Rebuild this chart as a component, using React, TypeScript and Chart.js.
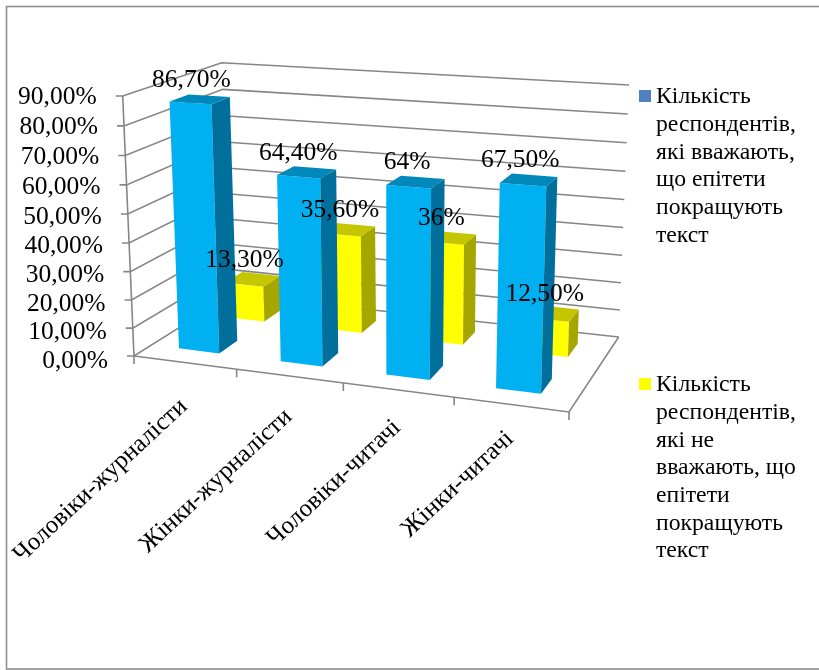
import { useEffect, useRef } from "react";
import { Chart, registerables } from "chart.js";

Chart.register(...registerables);

// Chart content
const categories = ["Чоловіки-журналісти", "Жінки-журналісти", "Чоловіки-читачі", "Жінки-читачі"];
const positiveValues = [86.7, 64.4, 64, 67.5];
const negativeValues = [13.3, 35.6, 36, 12.5];
const positiveLabels = ["86,70%", "64,40%", "64%", "67,50%"];
const negativeLabels = ["13,30%", "35,60%", "36%", "12,50%"];
const positiveLegend = ["Кількість", "респондентів,", "які вважають,", "що епітети", "покращують", "текст"];
const negativeLegend = ["Кількість", "респондентів,", "які не", "вважають, що", "епітети", "покращують", "текст"];

// Plot box corners on screen, named front/back, left/right, bottom/top
const FLB = [134, 356];
const FRB = [569, 412];
const FLT = [122.7, 96];
const FRT = [577.5, 124];
const BLB = [232, 294.5];
const BRB = [618.7, 337];
const BLT = [221.7, 62.7];
const BRT = [629, 85];
const PERSPECTIVE_UP = 0.039;
const PERSPECTIVE_ACROSS = 0.075;

const PLOT = { left: 134, top: 96, right: 569, bottom: 356 };
const SERIF = '"Liberation Serif", "Times New Roman", serif';
const GRID = "#868686";

const lerp = (a: number, b: number, t: number) => a + (b - a) * t;

// Maps plot-box coordinates (across, up, into the page; each 0..1) to the screen
function project(u: number, v: number, w: number): [number, number] {
  const h = v * (1 - PERSPECTIVE_UP * (1 - v));
  const s = u * (1 - PERSPECTIVE_ACROSS * (1 - u));
  const at = (i: number) => {
    const front = lerp(lerp(FLB[i], FRB[i], s), lerp(FLT[i], FRT[i], s), h);
    const back = lerp(lerp(BLB[i], BRB[i], s), lerp(BLT[i], BRT[i], s), h);
    return lerp(front, back, w);
  };
  return [at(0), at(1)];
}

function polygon(ctx: CanvasRenderingContext2D, pts: [number, number][], fill: string) {
  ctx.beginPath();
  pts.forEach((p, i) => (i ? ctx.lineTo(p[0], p[1]) : ctx.moveTo(p[0], p[1])));
  ctx.closePath();
  ctx.fillStyle = fill;
  ctx.fill();
}

function line(ctx: CanvasRenderingContext2D, pts: [number, number][]) {
  ctx.beginPath();
  pts.forEach((p, i) => (i ? ctx.lineTo(p[0], p[1]) : ctx.moveTo(p[0], p[1])));
  ctx.stroke();
}

// Per-series box styling; the two series stand in separate rows along the depth axis
const rows = [
  { near: 0.18, far: 0.38, front: "#00B0F0", top: "#0088BA", side: "#006F9B", dx: -8.5, dy: -19.5, labels: positiveLabels },
  { near: 0.68, far: 0.86, front: "#FFFF00", top: "#C6C600", side: "#A6A600", dx: -8, dy: -19.5, labels: negativeLabels },
];
const BAR_SHIFT = -0.006;

type Box = { u0: number; u1: number; v: number };

function boxOf(chart: any, el: any): Box {
  const sx = chart.scales.x;
  const sy = chart.scales.y;
  const span = sx.right - sx.left;
  const c = (el.x - sx.left) / span + BAR_SHIFT;
  const half = el.width / span / 2;
  return { u0: c - half, u1: c + half, v: (sy.bottom - el.y) / (sy.bottom - sy.top) };
}

const scenePlugin = {
  id: "scene3d",
  // Frame, walls, floor, gridlines and axis text
  beforeDatasetsDraw(chart: any) {
    const { ctx, scales } = chart;
    const sy = scales.y;
    const sx = scales.x;
    ctx.save();
    ctx.fillStyle = "#FFFFFF";
    ctx.fillRect(0, 0, chart.width, chart.height);

    ctx.strokeStyle = "#8E8E8E";
    ctx.lineWidth = 1.6;
    ctx.strokeRect(6.5, 6.5, 900, 662.5);

    ctx.strokeStyle = GRID;
    ctx.lineWidth = 1.6;
    ctx.font = `25.5px ${SERIF}`;
    ctx.textAlign = "right";
    ctx.textBaseline = "middle";

    sy.ticks.forEach((tick: any, i: number) => {
      const v = (sy.bottom - sy.getPixelForTick(i)) / (sy.bottom - sy.top);
      const a = project(0, v, 0);
      const b = project(0, v, 1);
      const c = project(1, v, 1);
      line(ctx, [[a[0] - 7, a[1]], a, b, c]);
      ctx.fillStyle = "#000000";
      ctx.fillText(tick.label, a[0] - 26, a[1] + 1 + 4 * (1 - v));
    });

    // Upright axis, floor outline and category ticks
    line(ctx, [project(0, 0, 0), project(0, 1, 0)]);
    line(ctx, [project(0, 0, 0), project(1, 0, 0), project(1, 0, 1)]);
    categories.forEach((_, i) => {
      for (const u of i === 0 ? [0, 0.25] : [(i + 1) * 0.25]) {
        const p = project(u, 0, 0);
        line(ctx, [p, [p[0], p[1] + 8]]);
      }
    });

    ctx.fillStyle = "#000000";
    ctx.font = `25px ${SERIF}`;
    ctx.textAlign = "right";
    chart.data.labels.forEach((label: string, i: number) => {
      const u = (sx.getPixelForValue(i) - sx.left) / (sx.right - sx.left);
      const p = project(u, 0, 0);
      ctx.save();
      ctx.translate(p[0] - 1, p[1] + 40.5 - 3.2 * i);
      ctx.rotate((-43 * Math.PI) / 180);
      ctx.fillText(label, 0, 0);
      ctx.restore();
    });
    ctx.restore();
  },
  // Each bar element is drawn as a box instead of a flat rectangle
  beforeDatasetDraw(chart: any, args: any) {
    const { ctx } = chart;
    const row = rows[args.index];
    args.meta.data.forEach((el: any) => {
      const { u0, u1, v } = boxOf(chart, el);
      const { near, far } = row;
      polygon(ctx, [project(u0, 0, near), project(u1, 0, near), project(u1, v, near), project(u0, v, near)], row.front);
      polygon(ctx, [project(u1, 0, near), project(u1, 0, far), project(u1, v, far), project(u1, v, near)], row.side);
      polygon(ctx, [project(u0, v, near), project(u1, v, near), project(u1, v, far), project(u0, v, far)], row.top);
    });
    return false;
  },
  // Value labels sit above everything, followed by the legend
  afterDatasetsDraw(chart: any) {
    const { ctx } = chart;
    ctx.save();
    ctx.fillStyle = "#000000";
    ctx.font = `25.5px ${SERIF}`;
    ctx.textAlign = "center";
    ctx.textBaseline = "middle";
    rows.forEach((row, d) => {
      chart.getDatasetMeta(d).data.forEach((el: any, i: number) => {
        const { u0, u1, v } = boxOf(chart, el);
        const p = project((u0 + u1) / 2, v, (row.near + row.far) / 2);
        ctx.fillText(row.labels[i], p[0] + row.dx, p[1] + row.dy);
      });
    });

    const drawLegend = (lines: string[], swatch: string, top: number) => {
      ctx.fillStyle = swatch;
      ctx.fillRect(639, top - 7, 12, 12);
      ctx.fillStyle = "#000000";
      ctx.font = `23.7px ${SERIF}`;
      ctx.textAlign = "left";
      lines.forEach((text, i) => ctx.fillText(text, 656, top + i * 27.7));
    };
    drawLegend(positiveLegend, "#4F81BD", 97);
    drawLegend(negativeLegend, "#FFFF00", 385);
    ctx.restore();
  },
};

export default function App() {
  const ref = useRef<HTMLCanvasElement>(null);
  useEffect(() => {
    const chart = new Chart(ref.current!, {
      type: "bar",
      data: {
        labels: categories,
        datasets: [
          { label: positiveLegend.join(" "), data: positiveValues, backgroundColor: rows[0].front },
          { label: negativeLegend.join(" "), data: negativeValues, backgroundColor: rows[1].front },
        ],
      },
      options: {
        responsive: false,
        animation: false,
        layout: {
          padding: {
            left: PLOT.left,
            top: PLOT.top,
            right: 819 - PLOT.right,
            bottom: 670 - PLOT.bottom,
          },
        },
        datasets: { bar: { grouped: false, categoryPercentage: 1, barPercentage: 0.4 } },
        plugins: { legend: { display: false }, tooltip: { enabled: false } },
        scales: {
          x: { display: false },
          y: {
            display: false,
            min: 0,
            max: 90,
            ticks: {
              stepSize: 10,
              callback: (value: any) => Number(value).toFixed(2).replace(".", ",") + "%",
            },
          },
        },
      } as any,
      plugins: [scenePlugin],
    });
    return () => chart.destroy();
  }, []);
  return (
    <div style={{ position: "absolute", left: 0, top: 0, width: 819, height: 670, overflow: "hidden", background: "#fff" }}>
      <canvas ref={ref} width={819} height={670} style={{ display: "block" }} />
    </div>
  );
}
